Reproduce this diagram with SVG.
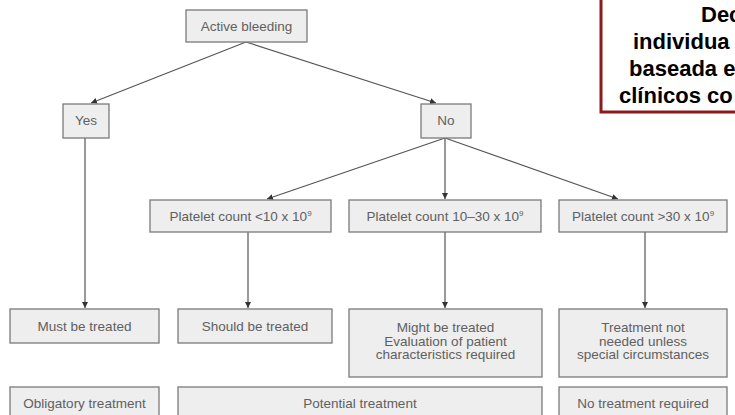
<svg xmlns="http://www.w3.org/2000/svg" width="735" height="415" viewBox="0 0 735 415">
<defs>
<style>
.box{fill:#eeeeee;stroke:#7a7a7a;stroke-width:1.3}
.t{font-family:"Liberation Sans",Arial,sans-serif;font-size:13.5px;fill:#606060;text-anchor:middle}
.c{stroke:#555;stroke-width:1.2;fill:none}
.big{font-family:"Liberation Sans",Arial,sans-serif;font-size:22px;font-weight:bold;fill:#000}
</style>
<marker id="ah" markerWidth="8" markerHeight="8" refX="6" refY="3" orient="auto" markerUnits="userSpaceOnUse">
<path d="M0,0 L6,3 L0,6 Z" fill="#333"/>
</marker>
</defs>
<rect width="735" height="415" fill="#fff"/>
<g id="connectors">
<line class="c" x1="246" y1="42" x2="91" y2="103" marker-end="url(#ah)"/>
<line class="c" x1="246" y1="42" x2="436" y2="103" marker-end="url(#ah)"/>
<line class="c" x1="445" y1="138" x2="267" y2="199" marker-end="url(#ah)"/>
<line class="c" x1="445" y1="138" x2="445" y2="199" marker-end="url(#ah)"/>
<line class="c" x1="445" y1="138" x2="618" y2="199" marker-end="url(#ah)"/>
<line class="c" x1="85" y1="138" x2="85" y2="308" marker-end="url(#ah)"/>
<line class="c" x1="248" y1="232" x2="248" y2="308" marker-end="url(#ah)"/>
<line class="c" x1="445" y1="232" x2="445" y2="308" marker-end="url(#ah)"/>
<line class="c" x1="645" y1="232" x2="645" y2="308" marker-end="url(#ah)"/>
</g>
<g id="active"><rect class="box" x="186" y="10" width="121" height="32"/><text class="t" x="246.5" y="30.5">Active bleeding</text></g>
<g id="yes"><rect class="box" x="63" y="104" width="46" height="34"/><text class="t" x="86" y="125">Yes</text></g>
<g id="no"><rect class="box" x="421" y="104" width="50" height="34"/><text class="t" x="446" y="125">No</text></g>
<g id="p1"><rect class="box" x="150" y="200" width="181" height="32"/><text class="t" x="240.5" y="221">Platelet count &lt;10 x 10<tspan font-size="8" dy="-5">9</tspan></text></g>
<g id="p2"><rect class="box" x="349" y="200" width="192" height="32"/><text class="t" x="445" y="221">Platelet count 10–30 x 10<tspan font-size="8" dy="-5">9</tspan></text></g>
<g id="p3"><rect class="box" x="559" y="200" width="168" height="32"/><text class="t" x="643" y="221">Platelet count &gt;30 x 10<tspan font-size="8" dy="-5">9</tspan></text></g>
<g id="must"><rect class="box" x="10" y="309" width="149" height="34"/><text class="t" x="84.5" y="330.5">Must be treated</text></g>
<g id="should"><rect class="box" x="178" y="309" width="154" height="34"/><text class="t" x="255" y="330.5">Should be treated</text></g>
<g id="might"><rect class="box" x="349" y="309" width="193" height="68"/><text class="t" x="445.5" y="332">Might be treated</text><text class="t" x="445.5" y="345.5">Evaluation of patient</text><text class="t" x="445.5" y="359">characteristics required</text></g>
<g id="notneeded"><rect class="box" x="559" y="309" width="168" height="68"/><text class="t" x="643" y="332">Treatment not</text><text class="t" x="643" y="345.5">needed unless</text><text class="t" x="643" y="359">special circumstances</text></g>
<g id="oblig"><rect class="box" x="10" y="387" width="149" height="40"/><text class="t" x="84.5" y="407.5">Obligatory treatment</text></g>
<g id="potential"><rect class="box" x="178" y="387" width="364" height="40"/><text class="t" x="360" y="407.5">Potential treatment</text></g>
<g id="notreq"><rect class="box" x="559" y="387" width="168" height="40"/><text class="t" x="643" y="407.5">No treatment required</text></g>
<g id="note">
<rect x="601" y="-10" width="200" height="122" fill="#fff" stroke="#8b1a1a" stroke-width="3"/>
<text class="big" x="701" y="22">Dec</text>
<text class="big" x="633" y="49">individua</text>
<text class="big" x="629" y="76">baseada e</text>
<text class="big" x="619" y="103">clínicos co</text>
</g>
</svg>
